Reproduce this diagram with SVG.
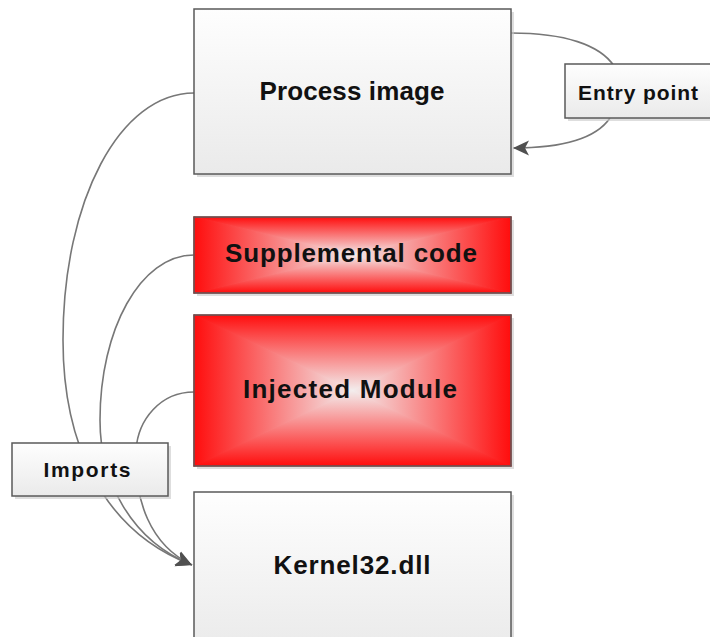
<svg xmlns="http://www.w3.org/2000/svg" width="710" height="637" viewBox="0 0 710 637">
<style>
.box{stroke:#5a5a5a;stroke-width:1.5}
.shadow{fill:#c8c8c8;opacity:0.6}
.lbl{font-family:"Liberation Sans",Arial,sans-serif;font-weight:bold;fill:#111;text-anchor:middle}
.con{fill:none;stroke:#777;stroke-width:1.6}
.t{stroke-width:1.2;stroke-linejoin:round}
</style>
<defs>
<linearGradient id="gray" x1="0" y1="0" x2="0" y2="1">
<stop offset="0" stop-color="#fefefe"/>
<stop offset="1" stop-color="#eaeaea"/>
</linearGradient>
<linearGradient id="rT" x1="0" y1="1" x2="0" y2="0"><stop offset="0" stop-color="#f3eded"/><stop offset="1" stop-color="#ff0d0d"/></linearGradient>
<linearGradient id="rB" x1="0" y1="0" x2="0" y2="1"><stop offset="0" stop-color="#f3eded"/><stop offset="1" stop-color="#ff0d0d"/></linearGradient>
<linearGradient id="rL" x1="1" y1="0" x2="0" y2="0"><stop offset="0" stop-color="#f3eded"/><stop offset="1" stop-color="#ff0d0d"/></linearGradient>
<linearGradient id="rR" x1="0" y1="0" x2="1" y2="0"><stop offset="0" stop-color="#f3eded"/><stop offset="1" stop-color="#ff0d0d"/></linearGradient>
<marker id="arr" markerUnits="userSpaceOnUse" markerWidth="18" markerHeight="18" viewBox="0 0 18 18" refX="16" refY="9" orient="auto">
<path d="M0,1.5 L16,9 L0,16.5 L4,9 Z" fill="#505050"/>
</marker>
</defs>

<g id="connectors">
<path class="con" d="M511,33 C565,33 600,45 614,66"/>
<path class="con" d="M610,118 C595,140 560,148 513,148" marker-end="url(#arr)"/>
<path class="con" d="M194,93 C120,93 63,200 63,340 C63,440 100,530 192,565" marker-end="url(#arr)"/>
<path class="con" d="M194,255 C140,255 100,330 100,420 C100,480 130,540 192,565" marker-end="url(#arr)"/>
<path class="con" d="M194,392 C160,392 138,420 136,450 C134,500 150,545 192,565" marker-end="url(#arr)"/>
</g>

<g id="process-image">
<rect class="shadow" x="197" y="12" width="317" height="165"/>
<rect class="box" x="194" y="9" width="317" height="165" fill="url(#gray)"/>
<text class="lbl" x="352" y="100" font-size="26" textLength="185" lengthAdjust="spacing">Process image</text>
</g>

<g id="entry-point">
<rect class="shadow" x="568" y="67" width="146" height="54"/>
<rect class="box" x="565" y="64" width="146" height="54" fill="url(#gray)"/>
<text class="lbl" x="638" y="100" font-size="21" textLength="120" lengthAdjust="spacing">Entry point</text>
</g>

<g id="supplemental-code">
<rect class="shadow" x="197" y="220" width="317" height="76"/>
<polygon class="t" points="194,217 511,217 352.5,255" fill="url(#rT)" stroke="url(#rT)"/>
<polygon class="t" points="194,293 511,293 352.5,255" fill="url(#rB)" stroke="url(#rB)"/>
<polygon class="t" points="194,217 194,293 352.5,255" fill="url(#rL)" stroke="url(#rL)"/>
<polygon class="t" points="511,217 511,293 352.5,255" fill="url(#rR)" stroke="url(#rR)"/>
<rect class="box" x="194" y="217" width="317" height="76" fill="none"/>
<text class="lbl" x="351" y="262" font-size="26" textLength="252" lengthAdjust="spacing">Supplemental code</text>
</g>

<g id="injected-module">
<rect class="shadow" x="197" y="318" width="317" height="151"/>
<polygon class="t" points="194,315 511,315 352.5,390.5" fill="url(#rT)" stroke="url(#rT)"/>
<polygon class="t" points="194,466 511,466 352.5,390.5" fill="url(#rB)" stroke="url(#rB)"/>
<polygon class="t" points="194,315 194,466 352.5,390.5" fill="url(#rL)" stroke="url(#rL)"/>
<polygon class="t" points="511,315 511,466 352.5,390.5" fill="url(#rR)" stroke="url(#rR)"/>
<rect class="box" x="194" y="315" width="317" height="151" fill="none"/>
<text class="lbl" x="350" y="398" font-size="26" textLength="214" lengthAdjust="spacing">Injected Module</text>
</g>

<g id="imports">
<rect class="shadow" x="15" y="446" width="156" height="53"/>
<rect class="box" x="12" y="443" width="156" height="53" fill="url(#gray)"/>
<text class="lbl" x="87" y="477" font-size="21" textLength="87" lengthAdjust="spacing">Imports</text>
</g>

<g id="kernel32">
<rect class="shadow" x="197" y="495" width="317" height="160"/>
<rect class="box" x="194" y="492" width="317" height="160" fill="url(#gray)"/>
<text class="lbl" x="352" y="574" font-size="26" textLength="157" lengthAdjust="spacing">Kernel32.dll</text>
</g>
</svg>
